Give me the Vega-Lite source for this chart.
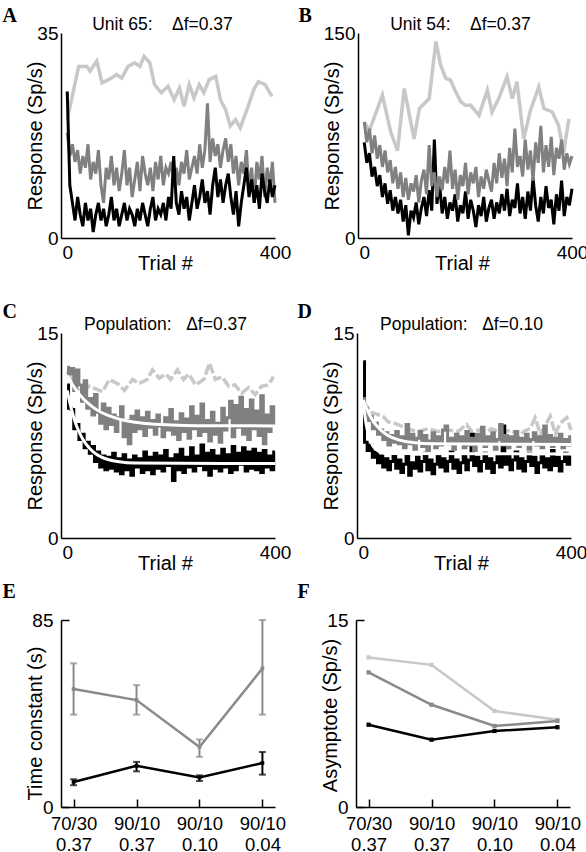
{
"$schema":"https://vega.github.io/schema/vega-lite/v6.json",
"background":"white",
"padding":{"left":2,"top":5,"right":0,"bottom":0},
"config":{"view":{"stroke":null},"axis":{"grid":false,"ticks":false,"domainColor":"#000","domainWidth":1.5,"labelFont":"Liberation Sans","labelFontSize":19,"labelColor":"#000","labelFlush":false,"labelOverlap":false,"titleFont":"Liberation Sans","titleFontSize":20,"titleFontWeight":"normal","titleColor":"#000"}},
"datasets":{
"al":[{"t":0,"v":20.2},{"t":22,"v":29.3},{"t":38,"v":29.3},{"t":44,"v":28.5},{"t":57,"v":30.2},{"t":67,"v":26.5},{"t":79,"v":27.0},{"t":95,"v":27.9},{"t":105,"v":27.3},{"t":117,"v":29.3},{"t":130,"v":29.9},{"t":140,"v":29.3},{"t":148,"v":31.0},{"t":159,"v":29.9},{"t":168,"v":26.2},{"t":181,"v":24.8},{"t":194,"v":25.9},{"t":206,"v":23.6},{"t":216,"v":25.6},{"t":225,"v":22.5},{"t":235,"v":26.2},{"t":244,"v":23.9},{"t":254,"v":26.2},{"t":263,"v":24.8},{"t":273,"v":27.0},{"t":286,"v":27.6},{"t":295,"v":23.6},{"t":305,"v":21.9},{"t":314,"v":19.1},{"t":324,"v":20.2},{"t":333,"v":18.8},{"t":346,"v":21.9},{"t":359,"v":25.3},{"t":368,"v":26.7},{"t":381,"v":26.2},{"t":394,"v":24.2}],
"am":[{"t":0,"v":18},{"t":5,"v":14},{"t":10,"v":16},{"t":15,"v":13},{"t":20,"v":15},{"t":25,"v":11},{"t":30,"v":14},{"t":35,"v":12},{"t":40,"v":16},{"t":45,"v":10},{"t":50,"v":13},{"t":55,"v":11},{"t":60,"v":15},{"t":65,"v":9},{"t":70,"v":6},{"t":75,"v":12},{"t":80,"v":10},{"t":85,"v":14},{"t":90,"v":9},{"t":95,"v":12},{"t":100,"v":8},{"t":105,"v":11},{"t":110,"v":15},{"t":115,"v":9},{"t":120,"v":12},{"t":125,"v":7},{"t":130,"v":10},{"t":135,"v":13},{"t":140,"v":8},{"t":145,"v":14},{"t":150,"v":11},{"t":155,"v":9},{"t":160,"v":12},{"t":165,"v":8},{"t":170,"v":13},{"t":175,"v":10},{"t":180,"v":14},{"t":185,"v":9},{"t":190,"v":12},{"t":195,"v":11},{"t":200,"v":13},{"t":205,"v":10},{"t":210,"v":12},{"t":215,"v":9},{"t":220,"v":13},{"t":225,"v":11},{"t":230,"v":15},{"t":235,"v":10},{"t":240,"v":12},{"t":245,"v":14},{"t":250,"v":11},{"t":255,"v":16},{"t":260,"v":12},{"t":265,"v":15},{"t":270,"v":23},{"t":275,"v":13},{"t":280,"v":17},{"t":285,"v":14},{"t":290,"v":16},{"t":295,"v":12},{"t":300,"v":15},{"t":305,"v":17},{"t":310,"v":13},{"t":315,"v":16},{"t":320,"v":11},{"t":325,"v":14},{"t":330,"v":9},{"t":335,"v":13},{"t":340,"v":11},{"t":345,"v":15},{"t":350,"v":8},{"t":355,"v":12},{"t":360,"v":6},{"t":365,"v":13},{"t":370,"v":10},{"t":375,"v":14},{"t":380,"v":7},{"t":385,"v":12},{"t":390,"v":9},{"t":395,"v":13},{"t":400,"v":6}],
"ak":[{"t":0,"v":25},{"t":5,"v":9},{"t":10,"v":6},{"t":15,"v":3},{"t":20,"v":7},{"t":25,"v":4},{"t":30,"v":2},{"t":35,"v":6},{"t":40,"v":3},{"t":45,"v":5},{"t":50,"v":1},{"t":55,"v":4},{"t":60,"v":6},{"t":65,"v":3},{"t":70,"v":5},{"t":75,"v":2},{"t":80,"v":4},{"t":85,"v":7},{"t":90,"v":3},{"t":95,"v":5},{"t":100,"v":2},{"t":105,"v":4},{"t":110,"v":6},{"t":115,"v":3},{"t":120,"v":5},{"t":125,"v":4},{"t":130,"v":2},{"t":135,"v":5},{"t":140,"v":3},{"t":145,"v":6},{"t":150,"v":4},{"t":155,"v":2},{"t":160,"v":5},{"t":165,"v":7},{"t":170,"v":3},{"t":175,"v":5},{"t":180,"v":4},{"t":185,"v":6},{"t":190,"v":3},{"t":195,"v":7},{"t":200,"v":5},{"t":205,"v":14},{"t":210,"v":6},{"t":215,"v":4},{"t":220,"v":8},{"t":225,"v":5},{"t":230,"v":7},{"t":235,"v":3},{"t":240,"v":6},{"t":245,"v":9},{"t":250,"v":5},{"t":255,"v":7},{"t":260,"v":10},{"t":265,"v":6},{"t":270,"v":8},{"t":275,"v":4},{"t":280,"v":9},{"t":285,"v":12},{"t":290,"v":7},{"t":295,"v":10},{"t":300,"v":6},{"t":305,"v":9},{"t":310,"v":11},{"t":315,"v":7},{"t":320,"v":4},{"t":325,"v":8},{"t":330,"v":2},{"t":335,"v":6},{"t":340,"v":9},{"t":345,"v":12},{"t":350,"v":7},{"t":355,"v":10},{"t":360,"v":6},{"t":365,"v":9},{"t":370,"v":5},{"t":375,"v":11},{"t":380,"v":8},{"t":385,"v":6},{"t":390,"v":10},{"t":395,"v":7},{"t":400,"v":9}],
"bl":[{"t":0,"v":84.8},{"t":10,"v":78.7},{"t":35,"v":104.5},{"t":51,"v":77.5},{"t":64,"v":63.9},{"t":77,"v":109.4},{"t":96,"v":72.5},{"t":106,"v":94.7},{"t":125,"v":102.0},{"t":138,"v":143.8},{"t":147,"v":126.6},{"t":157,"v":116.8},{"t":166,"v":115.6},{"t":176,"v":107.0},{"t":186,"v":99.6},{"t":195,"v":97.1},{"t":205,"v":97.1},{"t":221,"v":89.7},{"t":237,"v":108.2},{"t":246,"v":92.2},{"t":259,"v":102.0},{"t":275,"v":118.0},{"t":285,"v":102.0},{"t":294,"v":114.3},{"t":307,"v":72.5},{"t":320,"v":93.4},{"t":336,"v":110.6},{"t":346,"v":94.7},{"t":362,"v":92.2},{"t":374,"v":82.4},{"t":384,"v":62.7},{"t":394,"v":87.3}],
"bm":[{"t":0,"v":85},{"t":5,"v":70},{"t":10,"v":80},{"t":15,"v":62},{"t":20,"v":75},{"t":25,"v":58},{"t":30,"v":68},{"t":35,"v":52},{"t":40,"v":64},{"t":45,"v":48},{"t":50,"v":57},{"t":55,"v":40},{"t":60,"v":52},{"t":65,"v":36},{"t":70,"v":48},{"t":75,"v":30},{"t":80,"v":44},{"t":85,"v":28},{"t":90,"v":40},{"t":95,"v":34},{"t":100,"v":46},{"t":105,"v":26},{"t":110,"v":42},{"t":115,"v":50},{"t":120,"v":32},{"t":125,"v":68},{"t":130,"v":38},{"t":135,"v":48},{"t":140,"v":30},{"t":145,"v":45},{"t":150,"v":35},{"t":155,"v":52},{"t":160,"v":40},{"t":165,"v":64},{"t":170,"v":36},{"t":175,"v":50},{"t":180,"v":28},{"t":185,"v":46},{"t":190,"v":38},{"t":195,"v":55},{"t":200,"v":32},{"t":205,"v":48},{"t":210,"v":40},{"t":215,"v":52},{"t":220,"v":30},{"t":225,"v":45},{"t":230,"v":36},{"t":235,"v":50},{"t":240,"v":42},{"t":245,"v":34},{"t":250,"v":55},{"t":255,"v":40},{"t":260,"v":62},{"t":265,"v":44},{"t":270,"v":58},{"t":275,"v":38},{"t":280,"v":66},{"t":285,"v":48},{"t":290,"v":80},{"t":295,"v":52},{"t":300,"v":60},{"t":305,"v":45},{"t":310,"v":72},{"t":315,"v":50},{"t":320,"v":64},{"t":325,"v":42},{"t":330,"v":70},{"t":335,"v":55},{"t":340,"v":82},{"t":345,"v":48},{"t":350,"v":68},{"t":355,"v":52},{"t":360,"v":74},{"t":365,"v":46},{"t":370,"v":66},{"t":375,"v":58},{"t":380,"v":72},{"t":385,"v":50},{"t":390,"v":62},{"t":395,"v":54},{"t":400,"v":60}],
"bk":[{"t":0,"v":70},{"t":5,"v":55},{"t":10,"v":62},{"t":15,"v":45},{"t":20,"v":52},{"t":25,"v":38},{"t":30,"v":46},{"t":35,"v":30},{"t":40,"v":40},{"t":45,"v":25},{"t":50,"v":35},{"t":55,"v":20},{"t":60,"v":30},{"t":65,"v":18},{"t":70,"v":28},{"t":75,"v":12},{"t":80,"v":24},{"t":85,"v":2},{"t":90,"v":20},{"t":95,"v":15},{"t":100,"v":26},{"t":105,"v":10},{"t":110,"v":22},{"t":115,"v":30},{"t":120,"v":16},{"t":125,"v":35},{"t":130,"v":20},{"t":135,"v":72},{"t":140,"v":25},{"t":145,"v":40},{"t":150,"v":18},{"t":155,"v":30},{"t":160,"v":14},{"t":165,"v":26},{"t":170,"v":20},{"t":175,"v":32},{"t":180,"v":12},{"t":185,"v":24},{"t":190,"v":18},{"t":195,"v":34},{"t":200,"v":14},{"t":205,"v":28},{"t":210,"v":20},{"t":215,"v":8},{"t":220,"v":24},{"t":225,"v":16},{"t":230,"v":30},{"t":235,"v":12},{"t":240,"v":22},{"t":245,"v":28},{"t":250,"v":14},{"t":255,"v":26},{"t":260,"v":18},{"t":265,"v":32},{"t":270,"v":20},{"t":275,"v":36},{"t":280,"v":16},{"t":285,"v":28},{"t":290,"v":22},{"t":295,"v":40},{"t":300,"v":18},{"t":305,"v":30},{"t":310,"v":14},{"t":315,"v":34},{"t":320,"v":20},{"t":325,"v":44},{"t":330,"v":24},{"t":335,"v":12},{"t":340,"v":30},{"t":345,"v":18},{"t":350,"v":38},{"t":355,"v":22},{"t":360,"v":28},{"t":365,"v":10},{"t":370,"v":32},{"t":375,"v":20},{"t":380,"v":42},{"t":385,"v":16},{"t":390,"v":30},{"t":395,"v":24},{"t":400,"v":36}],
"cl":[{"t":0,"v":12.2},{"t":8,"v":11.6},{"t":24,"v":10.7},{"t":43,"v":11.1},{"t":68,"v":10.7},{"t":81,"v":11.6},{"t":97,"v":11.3},{"t":110,"v":10.8},{"t":126,"v":11.6},{"t":138,"v":11.3},{"t":154,"v":11.6},{"t":164,"v":12.3},{"t":177,"v":11.7},{"t":190,"v":12.0},{"t":199,"v":11.6},{"t":212,"v":12.3},{"t":224,"v":11.6},{"t":234,"v":12.0},{"t":247,"v":11.2},{"t":263,"v":11.6},{"t":274,"v":12.8},{"t":285,"v":11.6},{"t":298,"v":11.8},{"t":311,"v":11.1},{"t":323,"v":11.2},{"t":336,"v":10.6},{"t":349,"v":11.0},{"t":362,"v":10.5},{"t":374,"v":11.1},{"t":387,"v":11.2},{"t":397,"v":11.8}],
"cm":[{"t":0,"v":12.5},{"t":5,"v":12.0},{"t":10,"v":12.4},{"t":15,"v":10.8},{"t":20,"v":12.3},{"t":25,"v":11.2},{"t":30,"v":10.0},{"t":35,"v":11.5},{"t":40,"v":9.5},{"t":45,"v":10.2},{"t":50,"v":9.0},{"t":55,"v":10.5},{"t":60,"v":9.2},{"t":65,"v":8.4},{"t":70,"v":9.8},{"t":75,"v":8.0},{"t":80,"v":9.5},{"t":85,"v":8.3},{"t":90,"v":9.0},{"t":95,"v":7.8},{"t":100,"v":8.8},{"t":105,"v":9.6},{"t":110,"v":7.4},{"t":115,"v":8.6},{"t":120,"v":6.9},{"t":125,"v":8.9},{"t":130,"v":7.8},{"t":135,"v":9.3},{"t":140,"v":8.0},{"t":145,"v":8.8},{"t":150,"v":7.5},{"t":155,"v":9.2},{"t":160,"v":8.1},{"t":165,"v":8.6},{"t":170,"v":7.6},{"t":175,"v":9.0},{"t":180,"v":8.2},{"t":185,"v":7.4},{"t":190,"v":8.8},{"t":195,"v":7.9},{"t":200,"v":9.4},{"t":205,"v":7.6},{"t":210,"v":8.5},{"t":215,"v":7.2},{"t":220,"v":9.1},{"t":225,"v":7.8},{"t":230,"v":8.7},{"t":235,"v":7.3},{"t":240,"v":9.6},{"t":245,"v":8.0},{"t":250,"v":8.9},{"t":255,"v":7.5},{"t":260,"v":9.8},{"t":265,"v":7.8},{"t":270,"v":8.6},{"t":275,"v":7.1},{"t":280,"v":9.2},{"t":285,"v":7.6},{"t":290,"v":8.4},{"t":295,"v":7.0},{"t":300,"v":9.5},{"t":305,"v":7.9},{"t":310,"v":8.8},{"t":315,"v":10.0},{"t":320,"v":7.4},{"t":325,"v":9.7},{"t":330,"v":8.1},{"t":335,"v":10.3},{"t":340,"v":7.6},{"t":345,"v":9.4},{"t":350,"v":7.2},{"t":355,"v":10.1},{"t":360,"v":8.0},{"t":365,"v":9.3},{"t":370,"v":7.5},{"t":375,"v":10.4},{"t":380,"v":6.9},{"t":385,"v":9.0},{"t":390,"v":7.8},{"t":395,"v":9.6},{"t":400,"v":8.3}],
"ck":[{"t":0,"v":11.2},{"t":5,"v":9.5},{"t":10,"v":9.4},{"t":15,"v":8.0},{"t":20,"v":8.3},{"t":25,"v":7.2},{"t":30,"v":7.6},{"t":35,"v":6.6},{"t":40,"v":7.0},{"t":45,"v":6.2},{"t":50,"v":6.7},{"t":55,"v":5.6},{"t":60,"v":6.3},{"t":65,"v":5.2},{"t":70,"v":6.0},{"t":75,"v":5.0},{"t":80,"v":5.9},{"t":85,"v":5.1},{"t":90,"v":6.2},{"t":95,"v":4.9},{"t":100,"v":5.8},{"t":105,"v":4.7},{"t":110,"v":6.1},{"t":115,"v":5.0},{"t":120,"v":5.7},{"t":125,"v":4.6},{"t":130,"v":6.0},{"t":135,"v":5.2},{"t":140,"v":5.8},{"t":145,"v":4.8},{"t":150,"v":6.3},{"t":155,"v":5.0},{"t":160,"v":5.9},{"t":165,"v":4.7},{"t":170,"v":6.2},{"t":175,"v":5.1},{"t":180,"v":6.0},{"t":185,"v":4.9},{"t":190,"v":6.4},{"t":195,"v":5.3},{"t":200,"v":5.8},{"t":205,"v":4.2},{"t":210,"v":6.1},{"t":215,"v":5.0},{"t":220,"v":6.5},{"t":225,"v":4.8},{"t":230,"v":5.9},{"t":235,"v":5.2},{"t":240,"v":6.6},{"t":245,"v":4.9},{"t":250,"v":6.0},{"t":255,"v":5.3},{"t":260,"v":6.8},{"t":265,"v":5.0},{"t":270,"v":6.2},{"t":275,"v":4.6},{"t":280,"v":6.4},{"t":285,"v":5.1},{"t":290,"v":6.0},{"t":295,"v":4.9},{"t":300,"v":6.5},{"t":305,"v":5.2},{"t":310,"v":6.1},{"t":315,"v":4.8},{"t":320,"v":6.7},{"t":325,"v":5.0},{"t":330,"v":6.2},{"t":335,"v":5.4},{"t":340,"v":6.6},{"t":345,"v":4.9},{"t":350,"v":6.3},{"t":355,"v":5.1},{"t":360,"v":6.5},{"t":365,"v":5.0},{"t":370,"v":6.2},{"t":375,"v":4.8},{"t":380,"v":6.4},{"t":385,"v":5.2},{"t":390,"v":6.0},{"t":395,"v":5.0},{"t":400,"v":6.3}],
"cfm":[{"t":0,"v":11.9},{"t":10,"v":11.23},{"t":20,"v":10.68},{"t":30,"v":10.23},{"t":40,"v":9.86},{"t":50,"v":9.56},{"t":65,"v":9.2},{"t":80,"v":8.95},{"t":100,"v":8.7},{"t":125,"v":8.5},{"t":150,"v":8.38},{"t":200,"v":8.27},{"t":250,"v":8.22},{"t":400,"v":8.2}],
"cfk":[{"t":0,"v":10.8},{"t":5,"v":9.9},{"t":10,"v":9.15},{"t":15,"v":8.53},{"t":20,"v":8.01},{"t":30,"v":7.23},{"t":40,"v":6.7},{"t":50,"v":6.31},{"t":65,"v":5.94},{"t":80,"v":5.73},{"t":100,"v":5.58},{"t":130,"v":5.49},{"t":400,"v":5.45}],
"dl":[{"t":0,"v":10.0},{"t":15,"v":9.2},{"t":38,"v":8.9},{"t":48,"v":8.5},{"t":60,"v":8.4},{"t":79,"v":8.1},{"t":93,"v":7.9},{"t":106,"v":7.8},{"t":125,"v":8.0},{"t":144,"v":7.8},{"t":164,"v":7.9},{"t":183,"v":7.8},{"t":199,"v":8.3},{"t":209,"v":7.8},{"t":222,"v":7.9},{"t":234,"v":7.7},{"t":247,"v":8.0},{"t":260,"v":7.8},{"t":273,"v":7.8},{"t":286,"v":7.9},{"t":299,"v":7.4},{"t":309,"v":7.8},{"t":321,"v":8.0},{"t":331,"v":8.8},{"t":341,"v":7.6},{"t":350,"v":8.2},{"t":360,"v":8.9},{"t":370,"v":7.6},{"t":379,"v":8.4},{"t":392,"v":8.8},{"t":400,"v":7.9}],
"dm":[{"t":0,"v":10.2},{"t":5,"v":9.5},{"t":10,"v":8.6},{"t":15,"v":8.9},{"t":20,"v":8.0},{"t":25,"v":8.4},{"t":30,"v":7.6},{"t":35,"v":7.9},{"t":40,"v":7.2},{"t":45,"v":7.7},{"t":50,"v":6.8},{"t":55,"v":7.5},{"t":60,"v":7.0},{"t":65,"v":7.8},{"t":70,"v":6.9},{"t":75,"v":7.4},{"t":80,"v":6.6},{"t":85,"v":8.3},{"t":90,"v":6.9},{"t":95,"v":7.6},{"t":100,"v":6.5},{"t":105,"v":7.3},{"t":110,"v":7.8},{"t":115,"v":6.7},{"t":120,"v":7.5},{"t":125,"v":6.4},{"t":130,"v":7.1},{"t":135,"v":7.7},{"t":140,"v":6.6},{"t":145,"v":7.4},{"t":150,"v":6.8},{"t":155,"v":7.9},{"t":160,"v":8.2},{"t":165,"v":6.9},{"t":170,"v":7.3},{"t":175,"v":6.5},{"t":180,"v":7.6},{"t":185,"v":7.0},{"t":190,"v":7.4},{"t":195,"v":6.6},{"t":200,"v":7.8},{"t":205,"v":6.8},{"t":210,"v":7.3},{"t":215,"v":6.4},{"t":220,"v":7.6},{"t":225,"v":7.0},{"t":230,"v":8.1},{"t":235,"v":6.7},{"t":240,"v":7.4},{"t":245,"v":6.9},{"t":250,"v":7.7},{"t":255,"v":6.5},{"t":260,"v":7.2},{"t":265,"v":8.3},{"t":270,"v":6.8},{"t":275,"v":7.5},{"t":280,"v":6.6},{"t":285,"v":7.4},{"t":290,"v":7.0},{"t":295,"v":7.8},{"t":300,"v":6.7},{"t":305,"v":7.3},{"t":310,"v":6.9},{"t":315,"v":7.6},{"t":320,"v":6.5},{"t":325,"v":7.2},{"t":330,"v":7.7},{"t":335,"v":6.8},{"t":340,"v":7.4},{"t":345,"v":6.6},{"t":350,"v":8.2},{"t":355,"v":7.0},{"t":360,"v":7.5},{"t":365,"v":6.7},{"t":370,"v":7.3},{"t":375,"v":6.9},{"t":380,"v":7.6},{"t":385,"v":6.6},{"t":390,"v":7.2},{"t":395,"v":6.8},{"t":400,"v":7.4}],
"dk":[{"t":0,"v":12.9},{"t":5,"v":7.0},{"t":10,"v":6.4},{"t":15,"v":6.8},{"t":20,"v":5.9},{"t":25,"v":6.3},{"t":30,"v":5.5},{"t":35,"v":6.0},{"t":40,"v":5.2},{"t":45,"v":5.8},{"t":50,"v":5.0},{"t":55,"v":5.6},{"t":60,"v":6.1},{"t":65,"v":5.1},{"t":70,"v":5.7},{"t":75,"v":4.8},{"t":80,"v":5.4},{"t":85,"v":6.0},{"t":90,"v":4.6},{"t":95,"v":5.5},{"t":100,"v":5.1},{"t":105,"v":5.9},{"t":110,"v":4.9},{"t":115,"v":5.6},{"t":120,"v":6.2},{"t":125,"v":5.0},{"t":130,"v":5.7},{"t":135,"v":4.7},{"t":140,"v":5.4},{"t":145,"v":6.0},{"t":150,"v":5.2},{"t":155,"v":5.8},{"t":160,"v":4.9},{"t":165,"v":5.6},{"t":170,"v":6.3},{"t":175,"v":5.1},{"t":180,"v":5.7},{"t":185,"v":4.8},{"t":190,"v":5.5},{"t":195,"v":6.1},{"t":200,"v":5.0},{"t":205,"v":5.7},{"t":210,"v":7.6},{"t":215,"v":5.3},{"t":220,"v":5.9},{"t":225,"v":4.9},{"t":230,"v":5.6},{"t":235,"v":6.2},{"t":240,"v":5.1},{"t":245,"v":5.8},{"t":250,"v":4.8},{"t":255,"v":5.5},{"t":260,"v":6.1},{"t":265,"v":5.2},{"t":270,"v":8.2},{"t":275,"v":5.4},{"t":280,"v":6.0},{"t":285,"v":5.0},{"t":290,"v":5.7},{"t":295,"v":6.3},{"t":300,"v":5.1},{"t":305,"v":5.8},{"t":310,"v":4.9},{"t":315,"v":5.6},{"t":320,"v":6.2},{"t":325,"v":5.3},{"t":330,"v":5.9},{"t":335,"v":4.8},{"t":340,"v":5.5},{"t":345,"v":6.1},{"t":350,"v":5.2},{"t":355,"v":5.8},{"t":360,"v":5.0},{"t":365,"v":6.4},{"t":370,"v":5.3},{"t":375,"v":5.9},{"t":380,"v":4.9},{"t":385,"v":5.6},{"t":390,"v":6.2},{"t":395,"v":5.4},{"t":400,"v":6.0}],
"dfm":[{"t":0,"v":10.1},{"t":5,"v":9.6},{"t":10,"v":9.18},{"t":15,"v":8.82},{"t":20,"v":8.5},{"t":30,"v":8.05},{"t":40,"v":7.7},{"t":50,"v":7.45},{"t":65,"v":7.22},{"t":80,"v":7.07},{"t":100,"v":6.97},{"t":130,"v":6.9},{"t":400,"v":6.85}],
"dfk":[{"t":0,"v":10.0},{"t":3,"v":9.0},{"t":6,"v":8.25},{"t":10,"v":7.57},{"t":15,"v":7.01},{"t":20,"v":6.67},{"t":30,"v":6.34},{"t":40,"v":6.22},{"t":50,"v":6.18},{"t":400,"v":6.15}],
"e":[{"c":"70/30|0.37","s":"1","v":53.6,"lo":42.0,"hi":65.3},{"c":"90/10|0.37","s":"1","v":48.6,"lo":42.0,"hi":55.4},{"c":"90/10|0.10","s":"1","v":27.3,"lo":22.8,"hi":30.7},{"c":"90/10|0.04","s":"1","v":63.0,"lo":42.0,"hi":85.0},{"c":"70/30|0.37","s":"2","v":11.4,"lo":9.9,"hi":12.6},{"c":"90/10|0.37","s":"2","v":18.7,"lo":16.2,"hi":20.5},{"c":"90/10|0.10","s":"2","v":13.4,"lo":11.8,"hi":14.4},{"c":"90/10|0.04","s":"2","v":20.0,"lo":14.7,"hi":25.0}],
"f":[{"c":"70/30|0.37","s":"1","v":12.0},{"c":"90/10|0.37","s":"1","v":11.4},{"c":"90/10|0.10","s":"1","v":7.7},{"c":"90/10|0.04","s":"1","v":7.0},{"c":"70/30|0.37","s":"2","v":10.8},{"c":"90/10|0.37","s":"2","v":8.2},{"c":"90/10|0.10","s":"2","v":6.5},{"c":"90/10|0.04","s":"2","v":6.9},{"c":"70/30|0.37","s":"3","v":6.6},{"c":"90/10|0.37","s":"3","v":5.4},{"c":"90/10|0.10","s":"3","v":6.1},{"c":"90/10|0.04","s":"3","v":6.4}]
},
"vconcat":[
{"vconcat":[
{"hconcat":[
{"width":214,"height":205,
 "resolve":{"axis":{"x":"independent","y":"independent"}},
 "layer":[
  {"data":{"name":"al"},"mark":{"type":"line","color":"#c8c8c8","strokeWidth":3.5},
   "encoding":{"x":{"field":"t","type":"quantitative","scale":{"domain":[-12,400]},"axis":{"values":[0,400],"labelPadding":5,"title":"Trial #","titleX":104,"titleY":31,"titleBaseline":"alphabetic"}},
   "y":{"field":"v","type":"quantitative","scale":{"domain":[0,35]},"axis":{"values":[0,35],"labelPadding":3,"title":"Response (Sp/s)","titleX":-20,"titleY":102.5,"titleBaseline":"alphabetic"}}}},
  {"data":{"name":"am"},"mark":{"type":"line","color":"#808080","strokeWidth":3},
   "encoding":{"x":{"field":"t","type":"quantitative","scale":{"domain":[-12,400]},"axis":null},"y":{"field":"v","type":"quantitative","scale":{"domain":[0,35]},"axis":{"orient":"right","labels":false,"domain":false,"ticks":false,"title":"A","titleAngle":0,"titleX":-273,"titleY":-12,"titleAlign":"left","titleBaseline":"alphabetic","titleFont":"Liberation Serif","titleFontSize":20,"titleFontWeight":"bold"}}}},
  {"data":{"name":"ak"},"mark":{"type":"line","color":"#000","strokeWidth":3},
   "encoding":{"x":{"field":"t","type":"quantitative","scale":{"domain":[-12,400]},"axis":{"orient":"top","labels":false,"domain":false,"ticks":false,"title":"Unit 65:\u00a0\u00a0\u00a0\u00a0Δf=0.37","titleFontSize":17.5,"titleX":101,"titleY":-4,"titleBaseline":"alphabetic"}},"y":{"field":"v","type":"quantitative","scale":{"domain":[0,35]},"axis":null}}}
 ]},
{"width":214,"height":205,
 "resolve":{"axis":{"x":"independent","y":"independent"}},
 "layer":[
  {"data":{"name":"bl"},"mark":{"type":"line","color":"#c8c8c8","strokeWidth":3.5},
   "encoding":{"x":{"field":"t","type":"quantitative","scale":{"domain":[-12,400]},"axis":{"values":[0,400],"labelPadding":5,"title":"Trial #","titleX":104,"titleY":31,"titleBaseline":"alphabetic"}},
   "y":{"field":"v","type":"quantitative","scale":{"domain":[0,150]},"axis":{"values":[0,150],"labelPadding":3,"title":"Response (Sp/s)","titleX":-20,"titleY":102.5,"titleBaseline":"alphabetic"}}}},
  {"data":{"name":"bk"},"mark":{"type":"line","color":"#000","strokeWidth":3},
   "encoding":{"x":{"field":"t","type":"quantitative","scale":{"domain":[-12,400]},"axis":null},"y":{"field":"v","type":"quantitative","scale":{"domain":[0,150]},"axis":{"orient":"right","labels":false,"domain":false,"ticks":false,"title":"B","titleAngle":0,"titleX":-274,"titleY":-12,"titleAlign":"left","titleBaseline":"alphabetic","titleFont":"Liberation Serif","titleFontSize":20,"titleFontWeight":"bold"}}}},
  {"data":{"name":"bm"},"mark":{"type":"line","color":"#808080","strokeWidth":3},
   "encoding":{"x":{"field":"t","type":"quantitative","scale":{"domain":[-12,400]},"axis":{"orient":"top","labels":false,"domain":false,"ticks":false,"title":"Unit 54:\u00a0\u00a0\u00a0\u00a0Δf=0.37","titleFontSize":17.5,"titleX":102,"titleY":-4,"titleBaseline":"alphabetic"}},"y":{"field":"v","type":"quantitative","scale":{"domain":[0,150]},"axis":null}}}
 ]}
],"spacing":7},
{"hconcat":[
{"width":214,"height":205,
 "resolve":{"axis":{"x":"independent","y":"independent"}},
 "layer":[
  {"data":{"name":"cl"},"mark":{"type":"line","color":"#c8c8c8","strokeWidth":3.5,"strokeDash":[10,3]},
   "encoding":{"x":{"field":"t","type":"quantitative","scale":{"domain":[-12,400]},"axis":{"values":[0,400],"labelPadding":5,"title":"Trial #","titleX":104,"titleY":31,"titleBaseline":"alphabetic"}},
   "y":{"field":"v","type":"quantitative","scale":{"domain":[0,15]},"axis":{"values":[0,15],"labelPadding":3,"title":"Response (Sp/s)","titleX":-20,"titleY":102.5,"titleBaseline":"alphabetic"}}}},
  {"data":{"name":"ck"},"mark":{"type":"line","color":"#000","strokeWidth":3,"interpolate":"step"},
   "encoding":{"x":{"field":"t","type":"quantitative","scale":{"domain":[-12,400]},"axis":null},"y":{"field":"v","type":"quantitative","scale":{"domain":[0,15]},"axis":{"orient":"right","labels":false,"domain":false,"ticks":false,"title":"C","titleAngle":0,"titleX":-273,"titleY":-16,"titleAlign":"left","titleBaseline":"alphabetic","titleFont":"Liberation Serif","titleFontSize":20,"titleFontWeight":"bold"}}}},
  {"data":{"name":"cm"},"mark":{"type":"line","color":"#808080","strokeWidth":3,"interpolate":"step"},
   "encoding":{"x":{"field":"t","type":"quantitative","scale":{"domain":[-12,400]},"axis":null},"y":{"field":"v","type":"quantitative","scale":{"domain":[0,15]},"axis":null}}},
  {"data":{"name":"cfk"},"mark":{"type":"line","color":"#fff","strokeWidth":3,"interpolate":"monotone"},
   "encoding":{"x":{"field":"t","type":"quantitative","scale":{"domain":[-12,400]},"axis":null},"y":{"field":"v","type":"quantitative","scale":{"domain":[0,15]},"axis":null}}},
  {"data":{"name":"cfm"},"mark":{"type":"line","color":"#fff","strokeWidth":3,"interpolate":"monotone"},
   "encoding":{"x":{"field":"t","type":"quantitative","scale":{"domain":[-12,400]},"axis":{"orient":"top","labels":false,"domain":false,"ticks":false,"title":"Population:\u00a0\u00a0\u00a0Δf=0.37","titleFontSize":17.5,"titleX":104,"titleY":-4,"titleBaseline":"alphabetic"}},"y":{"field":"v","type":"quantitative","scale":{"domain":[0,15]},"axis":null}}}
 ]},
{"width":214,"height":205,
 "resolve":{"axis":{"x":"independent","y":"independent"}},
 "layer":[
  {"data":{"name":"dl"},"mark":{"type":"line","color":"#c8c8c8","strokeWidth":3.5,"strokeDash":[10,3]},
   "encoding":{"x":{"field":"t","type":"quantitative","scale":{"domain":[-12,400]},"axis":{"values":[0,400],"labelPadding":5,"title":"Trial #","titleX":104,"titleY":31,"titleBaseline":"alphabetic"}},
   "y":{"field":"v","type":"quantitative","scale":{"domain":[0,15]},"axis":{"values":[0,15],"labelPadding":3,"title":"Response (Sp/s)","titleX":-20,"titleY":102.5,"titleBaseline":"alphabetic"}}}},
  {"data":{"name":"dk"},"mark":{"type":"line","color":"#000","strokeWidth":3,"interpolate":"step"},
   "encoding":{"x":{"field":"t","type":"quantitative","scale":{"domain":[-12,400]},"axis":null},"y":{"field":"v","type":"quantitative","scale":{"domain":[0,15]},"axis":{"orient":"right","labels":false,"domain":false,"ticks":false,"title":"D","titleAngle":0,"titleX":-274,"titleY":-16,"titleAlign":"left","titleBaseline":"alphabetic","titleFont":"Liberation Serif","titleFontSize":20,"titleFontWeight":"bold"}}}},
  {"data":{"name":"dm"},"mark":{"type":"line","color":"#808080","strokeWidth":3,"interpolate":"step"},
   "encoding":{"x":{"field":"t","type":"quantitative","scale":{"domain":[-12,400]},"axis":null},"y":{"field":"v","type":"quantitative","scale":{"domain":[0,15]},"axis":null}}},
  {"data":{"name":"dfk"},"mark":{"type":"line","color":"#fff","strokeWidth":3,"interpolate":"monotone"},
   "encoding":{"x":{"field":"t","type":"quantitative","scale":{"domain":[-12,400]},"axis":null},"y":{"field":"v","type":"quantitative","scale":{"domain":[0,15]},"axis":null}}},
  {"data":{"name":"dfm"},"mark":{"type":"line","color":"#fff","strokeWidth":3,"interpolate":"monotone"},
   "encoding":{"x":{"field":"t","type":"quantitative","scale":{"domain":[-12,400]},"axis":{"orient":"top","labels":false,"domain":false,"ticks":false,"title":"Population:\u00a0\u00a0\u00a0Δf=0.10","titleFontSize":17.5,"titleX":104,"titleY":-4,"titleBaseline":"alphabetic"}},"y":{"field":"v","type":"quantitative","scale":{"domain":[0,15]},"axis":null}}}
 ]}
],"spacing":6}
],"spacing":28},
{"hconcat":[
{"width":214,"height":187,
 "data":{"name":"e"},
 "resolve":{"axis":{"y":"independent"}},
 "encoding":{
  "x":{"field":"c","type":"ordinal","scale":{"type":"point","domain":["70/30|0.37","90/10|0.37","90/10|0.10","90/10|0.04"],"padding":0.2},"axis":{"labelExpr":"split(datum.label,'|')","labelAngle":0,"labelFontSize":18.5,"labelLineHeight":21,"labelPadding":15,"ticks":true,"tickSize":-8,"tickWidth":1.5,"tickColor":"#000","title":null}},
  "color":{"field":"s","type":"nominal","scale":{"domain":["1","2"],"range":["#8a8a8a","#000000"]},"legend":null}
 },
 "layer":[
  {"mark":{"type":"line","strokeWidth":2.5},"encoding":{"y":{"field":"v","type":"quantitative","scale":{"domain":[0,85]},"axis":{"values":[0,85],"labelPadding":16,"ticks":true,"tickSize":-8,"tickWidth":1.5,"tickColor":"#000","title":"Time constant (s)","titleX":-20,"titleY":103,"titleBaseline":"alphabetic"}}}},
  {"mark":{"type":"rule","strokeWidth":2},"encoding":{"y":{"field":"lo","type":"quantitative","scale":{"domain":[0,85]},"axis":null},"y2":{"field":"hi"}}},
  {"mark":{"type":"tick","orient":"horizontal","size":7,"thickness":2},"encoding":{"y":{"field":"lo","type":"quantitative","scale":{"domain":[0,85]},"axis":null}}},
  {"mark":{"type":"tick","orient":"horizontal","size":7,"thickness":2},"encoding":{"y":{"field":"hi","type":"quantitative","scale":{"domain":[0,85]},"axis":null}}},
  {"mark":{"type":"point","shape":"square","filled":true,"size":14,"opacity":1},"encoding":{"y":{"field":"v","type":"quantitative","scale":{"domain":[0,85]},"axis":{"orient":"right","labels":false,"domain":false,"ticks":false,"title":"E","titleAngle":0,"titleX":-273,"titleY":-23,"titleAlign":"left","titleBaseline":"alphabetic","titleFont":"Liberation Serif","titleFontSize":20,"titleFontWeight":"bold"}}}}
 ]},
{"width":214,"height":187,
 "data":{"name":"f"},
 "resolve":{"axis":{"y":"independent"}},
 "encoding":{
  "x":{"field":"c","type":"ordinal","scale":{"type":"point","domain":["70/30|0.37","90/10|0.37","90/10|0.10","90/10|0.04"],"padding":0.2},"axis":{"labelExpr":"split(datum.label,'|')","labelAngle":0,"labelFontSize":18.5,"labelLineHeight":21,"labelPadding":15,"ticks":true,"tickSize":-8,"tickWidth":1.5,"tickColor":"#000","title":null}},
  "color":{"field":"s","type":"nominal","scale":{"domain":["1","2","3"],"range":["#c8c8c8","#8a8a8a","#000000"]},"legend":null}
 },
 "layer":[
  {"mark":{"type":"line","strokeWidth":2.5},"encoding":{"y":{"field":"v","type":"quantitative","scale":{"domain":[0,15]},"axis":{"values":[0,15],"labelPadding":16,"ticks":true,"tickSize":-8,"tickWidth":1.5,"tickColor":"#000","title":"Asymptote (Sp/s)","titleX":-20,"titleY":95,"titleBaseline":"alphabetic"}}}},
  {"mark":{"type":"point","shape":"square","filled":true,"size":18,"opacity":1},"encoding":{"y":{"field":"v","type":"quantitative","scale":{"domain":[0,15]},"axis":{"orient":"right","labels":false,"domain":false,"ticks":false,"title":"F","titleAngle":0,"titleX":-273,"titleY":-23,"titleAlign":"left","titleBaseline":"alphabetic","titleFont":"Liberation Serif","titleFontSize":20,"titleFontWeight":"bold"}}}}
 ]}
],"spacing":11,"resolve":{"scale":{"color":"independent"}}}
],"spacing":8}
